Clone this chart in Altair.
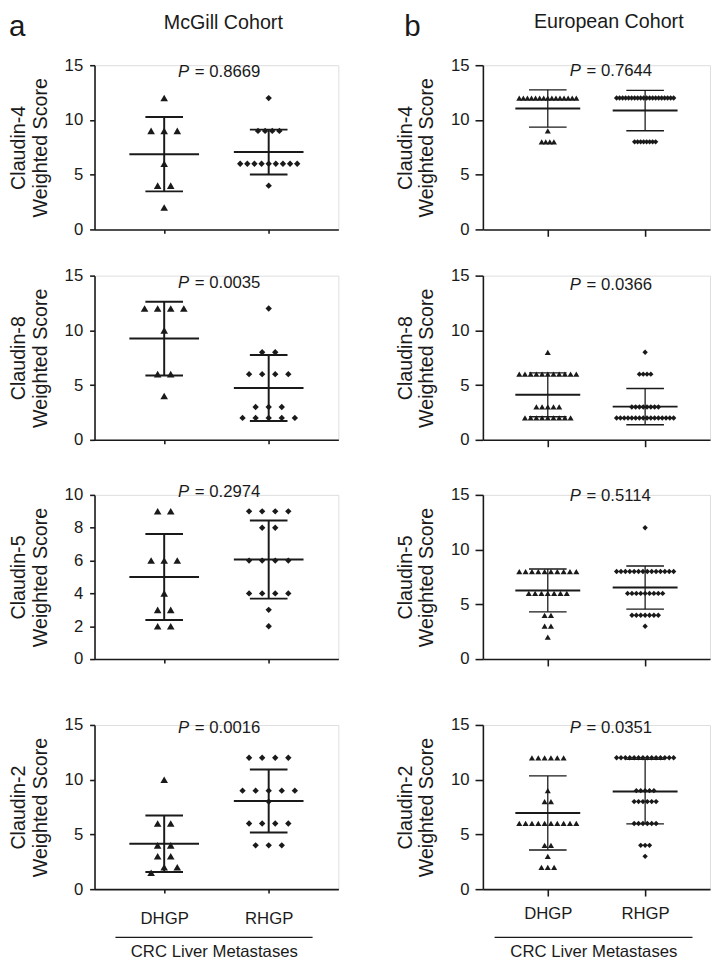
import altair as alt
import pandas as pd
import numpy as np

markers = ["Claudin-4", "Claudin-8", "Claudin-5", "Claudin-2"]
groups = ["DHGP", "RHGP"]
group_x = [1.0, 2.5]
cohorts = ["McGill Cohort", "European Cohort"]
letters = ["a", "b"]

# ---- McGill cohort weighted scores ----
mg_c4_dhgp = [12, 9, 9, 9, 6, 4, 4, 2]
mg_c4_rhgp = [12, 9, 9, 9, 9, 6, 6, 6, 6, 6, 6, 6, 6, 6, 4]
mg_c8_dhgp = [12, 12, 12, 12, 10, 6, 6, 4]
mg_c8_rhgp = [12, 8, 8, 6, 6, 6, 6, 3, 3, 3, 2, 2, 2, 2, 2]
mg_c5_dhgp = [9, 9, 6, 6, 6, 4, 3, 3, 2, 2]
mg_c5_rhgp = [9, 9, 9, 9, 8, 8, 6, 6, 6, 6, 4, 4, 4, 4, 3, 2]
mg_c2_dhgp = [10, 6, 6, 4, 4, 3, 3, 2, 2, 1.5]
mg_c2_rhgp = [12, 12, 12, 12, 9, 9, 9, 9, 9, 8, 6, 6, 6, 6, 4, 4, 4]

# ---- European cohort weighted scores ----
eu_c4_dhgp = [12, 12, 12, 12, 12, 12, 12, 12, 12, 12, 12, 12, 12, 12, 12,
              9, 8, 8, 8, 8]
eu_c4_rhgp = [12, 12, 12, 12, 12, 12, 12, 12, 12, 12, 12, 12, 12, 12, 12,
              12, 12, 12, 12, 12, 8, 8, 8, 8, 8, 8, 8, 8]
eu_c8_dhgp = [8, 6, 6, 6, 6, 6, 6, 6, 6, 6, 6, 6, 3, 3, 3, 3, 3,
              2, 2, 2, 2, 2, 2, 2, 2, 2]
eu_c8_rhgp = [8, 6, 6, 6, 6, 3, 3, 3, 3, 3, 3, 3, 3,
              2, 2, 2, 2, 2, 2, 2, 2, 2, 2, 2, 2, 2, 2, 2, 2]
eu_c5_dhgp = [8, 8, 8, 8, 8, 8, 8, 8, 8, 8, 6, 6, 6, 6, 6, 6, 6,
              4, 4, 3, 3, 2]
eu_c5_rhgp = [12, 8, 8, 8, 8, 8, 8, 8, 8, 8, 8, 8, 8, 8, 8,
              6, 6, 6, 6, 6, 6, 6, 6, 6, 4, 4, 4, 4, 4, 4, 4, 3]
eu_c2_dhgp = [12, 12, 12, 12, 12, 12, 9, 8, 8, 6, 6, 6, 6, 6, 6, 6, 6, 6, 6,
              4, 4, 3, 2, 2, 2]
eu_c2_rhgp = [12, 12, 12, 12, 12, 12, 12, 12, 12, 12, 12, 12, 12, 12,
              9, 9, 9, 9, 9, 8, 8, 8, 8, 8, 8, 6, 6, 6, 6, 6, 6, 4, 4, 4, 3]

mg_data = [(mg_c4_dhgp, mg_c4_rhgp), (mg_c8_dhgp, mg_c8_rhgp),
           (mg_c5_dhgp, mg_c5_rhgp), (mg_c2_dhgp, mg_c2_rhgp)]
eu_data = [(eu_c4_dhgp, eu_c4_rhgp), (eu_c8_dhgp, eu_c8_rhgp),
           (eu_c5_dhgp, eu_c5_rhgp), (eu_c2_dhgp, eu_c2_rhgp)]

mg_p = ["0.8669", "0.0035", "0.2974", "0.0016"]
eu_p = ["0.7644", "0.0366", "0.5114", "0.0351"]
mg_p_y = [14.4, 14.35, 10.2, 14.7]
eu_p_y = [14.47, 14.18, 14.85, 14.7]
mg_ymax = [15, 15, 10, 15]
eu_ymax = [15, 15, 15, 15]
ticks_15 = [0, 5, 10, 15]
ticks_10 = [0, 2, 4, 6, 8, 10]

FONT = "Liberation Sans"
INK = "#1a1a1a"
W = [248, 231]
H = 167
XMAX = 3.5

style = [
    dict(base_sp=13.3, tri=60, dia=42, cap_hw=0.27, sd_w=2.0, cap_w=2.0, mean_w=2.0,
         ytick=5, ylabpad=7, ytitlepad=14, xtick=4, xlabpad=18, p_x=1.2,
         letter_x=-87, title_x=131, title_y=-43, bracket=[0.3, 3.13], br_y=49,
         crc_y=64, crc_x=1.72),
    dict(base_sp=6.6, tri=38, dia=30, cap_hw=0.29, sd_w=1.3, cap_w=1.4, mean_w=2.0,
         ytick=8, ylabpad=6, ytitlepad=14, xtick=7, xlabpad=10, p_x=1.34,
         letter_x=-80, title_x=128, title_y=-44, bracket=[0.18, 3.23], br_y=49,
         crc_y=64, crc_x=1.71),
]


def point_frame(vals, gi, col):
    arr = np.array(vals, float)
    bins = np.floor(arr + 0.5)
    ppu = W[col] / XMAX
    nmax = pd.Series(bins).value_counts().max()
    sp = style[col]["base_sp"] if nmax < 2 else min(style[col]["base_sp"], 58.0 / (nmax - 1))
    rows = []
    for b in sorted(set(bins)):
        sub = sorted(arr[bins == b])
        n = len(sub)
        for i, v in enumerate(sub):
            rows.append({"x": group_x[gi] + (i - (n - 1) / 2) * sp / ppu, "y": v})
    return pd.DataFrame(rows)


def panel(col, r):
    st = style[col]
    vals = (mg_data if col == 0 else eu_data)[r]
    ymax = (mg_ymax if col == 0 else eu_ymax)[r]
    yticks = ticks_10 if ymax == 10 else ticks_15
    bottom = r == 3
    top = r == 0

    def X(field="x"):
        return alt.X(f"{field}:Q",
                     scale=alt.Scale(domain=[0, XMAX], nice=False, zero=False),
                     axis=alt.Axis(values=group_x, labels=bottom,
                                   labelExpr="datum.value == 1 ? 'DHGP' : 'RHGP'",
                                   tickSize=st["xtick"], labelPadding=st["xlabpad"],
                                   labelFontSize=17, labelColor=INK, title=None,
                                   grid=False, domainColor=INK, tickColor=INK,
                                   domainWidth=1.6, tickWidth=1.6, labelFont=FONT))

    def Y(field="y"):
        return alt.Y(f"{field}:Q",
                     scale=alt.Scale(domain=[0, ymax], nice=False, zero=True),
                     axis=alt.Axis(values=yticks, title=[markers[r], "Weighted Score"],
                                   titleFontSize=20, titleFontWeight="normal",
                                   titleColor=INK, titleFont=FONT, titleLineHeight=22,
                                   titlePadding=st["ytitlepad"], labelFontSize=17,
                                   labelColor=INK, labelFont=FONT,
                                   labelPadding=st["ylabpad"], tickSize=st["ytick"],
                                   grid=False, domainColor=INK, tickColor=INK,
                                   domainWidth=1.6, tickWidth=1.6))

    d_pts = point_frame(vals[0], 0, col)
    r_pts = point_frame(vals[1], 1, col)

    stats = []
    for gi in range(2):
        a = np.array(vals[gi], float)
        stats.append((group_x[gi], a.mean(), a.std(ddof=1)))
    mean_df = pd.DataFrame([{"x": xc - 0.5, "x2": xc + 0.5, "y": m} for xc, m, s in stats])
    sd_df = pd.DataFrame([{"x": xc, "y": m - s, "y2": m + s} for xc, m, s in stats])
    cap_df = pd.DataFrame([{"x": xc - st["cap_hw"], "x2": xc + st["cap_hw"], "y": yv}
                           for xc, m, s in stats for yv in (m - s, m + s)])

    layers = [
        alt.Chart(d_pts).mark_point(shape="triangle-up", filled=True, size=st["tri"],
                                    color=INK, opacity=1, strokeWidth=0)
        .encode(x=X(), y=Y()),
        alt.Chart(r_pts).mark_point(shape="diamond", filled=True, size=st["dia"],
                                    color=INK, opacity=1, strokeWidth=0)
        .encode(x=X(), y=Y()),
        alt.Chart(mean_df).mark_rule(color=INK, strokeWidth=st["mean_w"])
        .encode(x=X(), x2="x2:Q", y=Y()),
        alt.Chart(sd_df).mark_rule(color=INK, strokeWidth=st["sd_w"])
        .encode(x=X(), y=Y(), y2="y2:Q"),
        alt.Chart(cap_df).mark_rule(color=INK, strokeWidth=st["cap_w"])
        .encode(x=X(), x2="x2:Q", y=Y()),
    ]

    p_df = pd.DataFrame([{"x": st["p_x"], "y": (mg_p_y if col == 0 else eu_p_y)[r],
                          "p": "P", "v": "= " + (mg_p if col == 0 else eu_p)[r]}])
    layers.append(alt.Chart(p_df).mark_text(align="left", baseline="middle", fontSize=17,
                                            fontStyle="italic", font=FONT, color=INK)
                  .encode(x=X(), y=Y(), text="p:N"))
    layers.append(alt.Chart(p_df).mark_text(align="left", baseline="middle", fontSize=17,
                                            font=FONT, color=INK, dx=17)
                  .encode(x=X(), y=Y(), text="v:N"))

    if top:
        t_df = pd.DataFrame([{"t": cohorts[col], "l": letters[col]}])
        layers.append(alt.Chart(t_df).mark_text(align="center", baseline="middle",
                                                fontSize=20, font=FONT, color=INK)
                      .encode(x=alt.value(st["title_x"]), y=alt.value(st["title_y"]),
                              text="t:N"))
        layers.append(alt.Chart(t_df).mark_text(align="left", baseline="alphabetic",
                                                fontSize=30, font=FONT, color=INK)
                      .encode(x=alt.value(st["letter_x"]), y=alt.value(-30), text="l:N"))
    if bottom:
        b_df = pd.DataFrame([{"x": st["bracket"][0], "x2": st["bracket"][1],
                              "xc": st["crc_x"], "t": "CRC Liver Metastases"}])
        layers.append(alt.Chart(b_df).mark_rule(color=INK, strokeWidth=1.4)
                      .encode(x=X(), x2="x2:Q", y=alt.value(H + st["br_y"])))
        layers.append(alt.Chart(b_df).mark_text(align="center", baseline="middle",
                                                fontSize=17, font=FONT, color=INK)
                      .encode(x=X("xc"), y=alt.value(H + st["crc_y"]), text="t:N"))

    return alt.layer(*layers).properties(width=W[col], height=H)


rows = [alt.hconcat(panel(0, r), panel(1, r), spacing=56) for r in range(4)]
chart = alt.vconcat(
    rows[0],
    alt.vconcat(
        rows[1],
        alt.vconcat(rows[2], rows[3], spacing=48),
        spacing=34,
    ),
    spacing=28,
).properties(
    padding={"left": 0, "top": -5, "right": 0, "bottom": 0}
).configure_view(stroke=None).configure(font=FONT)

chart.save("out.html", embed_options={"renderer": "svg", "actions": False})
